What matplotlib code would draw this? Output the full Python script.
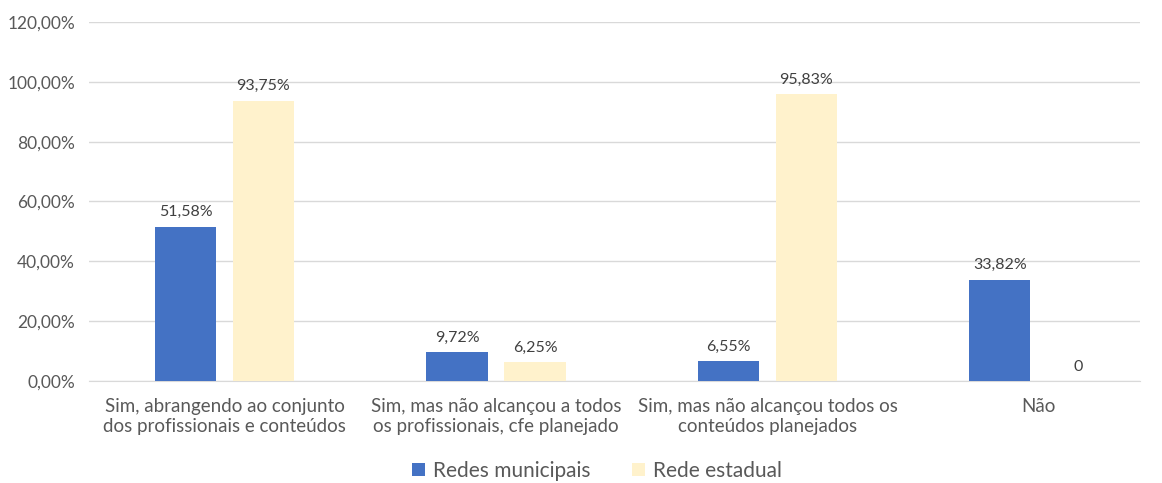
import numpy as np
import matplotlib
matplotlib.use('Agg')
import matplotlib.pyplot as plt
from matplotlib.ticker import FuncFormatter

categories = ['Sim, abrangendo ao conjunto\ndos profissionais e conteúdos',
              'Sim, mas não alcançou a todos\nos profissionais, cfe planejado',
              'Sim, mas não alcançou todos os\nconteúdos planejados',
              'Não']
municipais = [51.58, 9.72, 6.55, 33.82]
estadual = [93.75, 6.25, 95.83, 0]
series_names = ['Redes municipais', 'Rede estadual']

plt.rcParams['font.family'] = ['Lato', 'DejaVu Sans']
text_color = '#595959'

fig = plt.figure(figsize=(11.62, 4.83), dpi=100)
ax = fig.add_axes([0.0764, 0.2112, 0.9046, 0.7433])

x = np.arange(len(categories))
w = 0.225
off = 0.1436
b1 = ax.bar(x - off, municipais, w, color='#4472C4', label=series_names[0], zorder=3)
b2 = ax.bar(x + off, estadual, w, color='#FFF2CC', label=series_names[1], zorder=3)

def fmt_label(v):
    if v == 0:
        return '0'
    return ('%.2f' % v).replace('.', ',') + '%'

for bars, vals in ((b1, municipais), (b2, estadual)):
    for rect, v in zip(bars, vals):
        ax.text(rect.get_x() + rect.get_width() / 2, v + 2.5, fmt_label(v),
                ha='center', va='bottom', fontsize=11.5, color='#404040')

ax.set_xlim(-0.5, 3.372)
ax.set_ylim(0, 120)
ax.set_yticks(np.arange(0, 121, 20))
ax.yaxis.set_major_formatter(FuncFormatter(lambda v, p: ('%.2f' % v).replace('.', ',') + '%'))
ax.grid(axis='y', color='#D9D9D9', linewidth=1, zorder=0)
for s in ['top', 'right', 'left']:
    ax.spines[s].set_visible(False)
ax.spines['bottom'].set_color('#D9D9D9')
ax.tick_params(axis='y', length=0, labelsize=12.5, labelcolor=text_color, pad=10)
ax.tick_params(axis='x', length=0, labelsize=13.5, labelcolor=text_color, pad=12)
ax.set_xticks(x)
ax.set_xticklabels(categories, linespacing=1.25)

leg = fig.legend(handles=[b1, b2], labels=series_names, loc='lower center',
                 bbox_to_anchor=(0.514, -0.035), ncol=2, frameon=False,
                 fontsize=15, handlelength=0.6, handleheight=0.6, columnspacing=2.0,
                 handletextpad=0.4)
for t in leg.get_texts():
    t.set_color(text_color)

fig.savefig('out.png', dpi=100)
